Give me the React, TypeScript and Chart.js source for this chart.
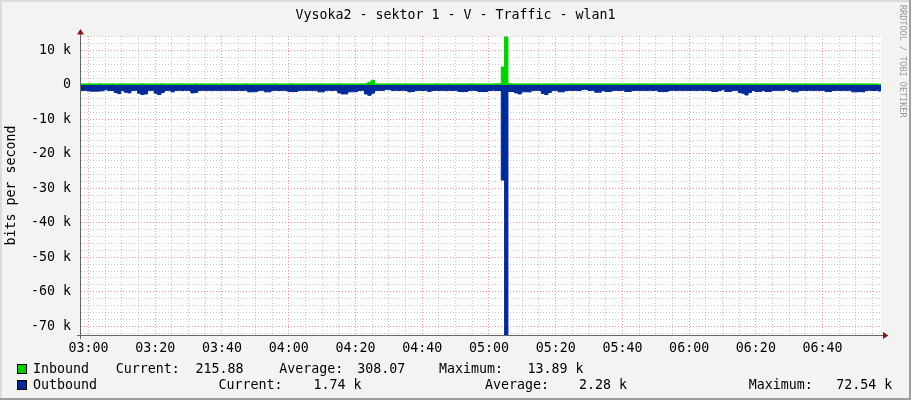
import React, { useEffect, useRef } from "react";
import { Chart, registerables } from "chart.js";

Chart.register(...registerables);

// ---- text ----
const TITLE = "Vysoka2 - sektor 1 - V - Traffic - wlan1";
const Y_LABEL = "bits per second";
const WATERMARK = "RRDTOOL / TOBI OETIKER";

// ---- axes (x in minutes relative to 03:00) ----
const X_MIN = -2.25;
const X_MAX = 237.5;
const X_MINOR_STEP = 5;
const X_MAJOR_STEP = 20;
const BASE_HOUR = 3;
const Y_MIN = -72540;
const Y_MAX = 14200;
const Y_MINOR_STEP = 2000;
const Y_MAJOR_STEP = 10000;

// ---- samples (1 minute each) ----
const SAMPLE_START = -2.3;
const SAMPLE_STEP = 1;

// Inbound, bits per second
const inbound = [
  290, 310, 275, 320, 305, 280, 330, 295, 300, 285,
  315, 270, 300, 325, 290, 305, 280, 310, 295, 320,
  285, 300, 275, 310, 295, 330, 290, 305, 280, 300,
  315, 290, 305, 270, 300, 320, 285, 310, 295, 300,
  290, 305, 280, 315, 300, 285, 310, 295, 275, 305,
  320, 290, 300, 285, 310, 295, 305, 280, 300, 315,
  290, 305, 275, 300, 320, 285, 310, 295, 300, 290,
  305, 280, 315, 300, 290, 310, 285, 300, 325, 295,
  310, 290, 300, 285, 305, 295, 330, 800, 1350, 310,
  295, 300, 280, 305, 290, 315, 300, 285, 310, 295,
  300, 275, 310, 290, 305, 285, 300, 315, 290, 300,
  285, 310, 295, 300, 280, 305, 290, 315, 300, 295,
  310, 285, 300, 290, 305, 320, 340, 5200, 13890, 360,
  300, 310, 290, 305, 285, 300, 315, 295, 300, 280,
  305, 290, 310, 295, 300, 285, 305, 290, 315, 300,
  295, 280, 300, 310, 290, 305, 285, 300, 295, 310,
  290, 305, 300, 285, 310, 295, 300, 280, 305, 290,
  310, 295, 300, 285, 305, 290, 300, 315, 290, 300,
  285, 305, 295, 300, 310, 290, 300, 285, 305, 295,
  300, 290, 310, 285, 300, 295, 305, 290, 300, 310,
  295, 300, 285, 305, 290, 300, 310, 295, 285, 300,
  305, 290, 300, 295, 310, 285, 300, 290, 305, 295,
  300, 285, 310, 295, 300, 290, 305, 280, 300, 295,
  290, 305, 300, 285, 310, 295, 300, 290, 280, 270,
  215.88,
];

// Outbound, bits per second (drawn below zero)
const outbound = [
  1600, 1600, 1550, 1750, 1800, 1800, 1750, 1700, 1350, 1600,
  1600, 2200, 2500, 1600, 2100, 2300, 1600, 1550, 2400, 2800,
  2600, 1600, 1550, 2400, 2800, 2200, 1600, 1550, 2000, 1600,
  1550, 1600, 1550, 1600, 2300, 2200, 1600, 1550, 1600, 1550,
  1600, 1550, 1600, 1550, 1600, 1550, 1600, 1600, 1550, 1600,
  1550, 2000, 2000, 1950, 1600, 1550, 2000, 2000, 1600, 1550,
  1600, 1550, 1600, 1900, 1950, 1900, 1600, 1550, 1600, 1550,
  1600, 1550, 2000, 2000, 1600, 1550, 1600, 1550, 2300, 2600,
  2600, 2000, 2000, 1950, 1600, 1550, 2600, 3000, 2400, 1600,
  1550, 1600, 1300, 1350, 1600, 1550, 1600, 1550, 1600, 2000,
  1900, 1600, 1550, 1600, 1550, 1900, 1600, 1550, 1600, 1550,
  1600, 1550, 1600, 1550, 1900, 1950, 1900, 1600, 1550, 1600,
  1900, 1950, 1900, 1600, 1550, 1600, 1600, 27600, 72540, 1900,
  1900, 2300, 2600, 2000, 2000, 2000, 1600, 1550, 1600, 2500,
  2800, 2200, 1600, 1550, 2000, 2000, 1600, 1550, 1600, 1550,
  1600, 1300, 1300, 1600, 1550, 2100, 2100, 1600, 1900, 1900,
  1600, 1550, 1600, 1550, 1900, 1900, 1600, 1550, 1600, 1550,
  1600, 1550, 1600, 1550, 1900, 1950, 1900, 1600, 1550, 1600,
  1550, 1600, 1550, 1600, 1550, 1600, 1550, 1600, 1550, 1600,
  1900, 1900, 1600, 1300, 1900, 1900, 1600, 1550, 2200, 2400,
  2900, 2200, 1600, 1900, 1900, 1600, 1900, 1900, 1600, 1550,
  1600, 1550, 1300, 1600, 2000, 2000, 1600, 1550, 1600, 1550,
  1600, 1550, 1600, 1550, 1900, 1900, 1600, 1550, 1600, 1550,
  1600, 1550, 2000, 2000, 1950, 2000, 1600, 1550, 1600, 1550,
  1740,
];

// ---- legend ----
const seriesNames = ["Inbound", "Outbound"];
const seriesColors = ["#00CF00", "#002A97"];
const currentValues = ["215.88", "1.74 k"];
const averageValues = ["308.07", "2.28 k"];
const maximumValues = ["13.89 k", "72.54 k"];

const FONT = "'DejaVu Sans Mono', monospace";
const FONT_SIZE = 13.3;
const MAJOR_GRID = "rgba(222,48,48,0.5)";
const MINOR_GRID = "rgba(143,143,143,0.5)";

function fmtTime(v: number): string {
  const total = BASE_HOUR * 60 + Math.round(v);
  const h = Math.floor(total / 60);
  const m = total % 60;
  return String(h).padStart(2, "0") + ":" + String(m).padStart(2, "0");
}

function gridTicks(min: number, max: number, step: number) {
  const out: { value: number }[] = [];
  for (let v = Math.ceil(min / step) * step; v <= max; v += step) out.push({ value: v });
  return out;
}

const rrdPlugin = {
  id: "rrdDecor",
  beforeDraw(chart: any) {
    const { ctx, chartArea: a } = chart;
    ctx.save();
    ctx.fillStyle = "#ffffff";
    ctx.fillRect(a.left, a.top, a.right - a.left, a.bottom - a.top);
    ctx.restore();
  },
  afterDraw(chart: any) {
    const { ctx, chartArea: a } = chart;
    ctx.save();
    ctx.strokeStyle = "#666666";
    ctx.lineWidth = 1;
    ctx.beginPath();
    ctx.moveTo(a.left - 4, a.bottom + 0.5);
    ctx.lineTo(a.right + 3, a.bottom + 0.5);
    ctx.moveTo(a.left - 0.5, a.bottom + 4);
    ctx.lineTo(a.left - 0.5, a.top - 3);
    ctx.stroke();
    ctx.fillStyle = "#7f1d1d";
    ctx.beginPath();
    ctx.moveTo(a.left - 0.5, a.top - 7);
    ctx.lineTo(a.left - 4, a.top - 1.5);
    ctx.lineTo(a.left + 3, a.top - 1.5);
    ctx.closePath();
    ctx.fill();
    ctx.beginPath();
    ctx.moveTo(a.right + 7.5, a.bottom + 0.5);
    ctx.lineTo(a.right + 2, a.bottom - 3);
    ctx.lineTo(a.right + 2, a.bottom + 4);
    ctx.closePath();
    ctx.fill();
    ctx.restore();
  },
};

export default function App() {
  const ref = useRef<HTMLCanvasElement>(null);

  useEffect(() => {
    const canvas = ref.current;
    if (!canvas) return;
    const times = inbound.map((_, i) => SAMPLE_START + i * SAMPLE_STEP);
    const chart = new Chart(canvas, {
      type: "line",
      data: {
        datasets: [
          {
            label: seriesNames[0],
            data: inbound.map((v, i) => ({ x: times[i], y: v })),
            borderColor: seriesColors[0],
            backgroundColor: seriesColors[0],
            borderWidth: 1,
            fill: "origin",
            stepped: "after",
            pointRadius: 0,
            clip: 0,
          },
          {
            label: seriesNames[1],
            data: outbound.map((v, i) => ({ x: times[i], y: -v })),
            borderColor: seriesColors[1],
            backgroundColor: seriesColors[1],
            borderWidth: 1,
            fill: "origin",
            stepped: "after",
            pointRadius: 0,
            clip: 0,
          },
        ],
      },
      options: {
        responsive: false,
        animation: false,
        events: [],
        layout: { padding: { top: 36, right: 30, left: 0, bottom: 0 } },
        plugins: {
          legend: { display: false },
          tooltip: { enabled: false },
          title: { display: false },
        },
        scales: {
          x: {
            type: "linear",
            min: X_MIN,
            max: X_MAX,
            afterFit: (s: any) => {
              s.height = 65;
            },
            afterBuildTicks: (s: any) => {
              s.ticks = gridTicks(X_MIN, X_MAX, X_MINOR_STEP);
            },
            grid: {
              color: (c: any) =>
                c.tick && Math.round(c.tick.value) % X_MAJOR_STEP === 0 ? MAJOR_GRID : MINOR_GRID,
              lineWidth: 1,
              drawTicks: false,
            },
            border: { display: false, dash: [1, 2] },
            ticks: {
              autoSkip: false,
              maxRotation: 0,
              minRotation: 0,
              padding: 6,
              color: "#000",
              font: { family: FONT, size: FONT_SIZE },
              callback: (v: any) => {
                const n = Math.round(Number(v));
                return n % X_MAJOR_STEP === 0 && n >= 0 ? fmtTime(n) : "";
              },
            },
          },
          y: {
            type: "linear",
            min: Y_MIN,
            max: Y_MAX,
            afterFit: (s: any) => {
              s.width = 81;
            },
            afterBuildTicks: (s: any) => {
              s.ticks = gridTicks(Y_MIN, Y_MAX, Y_MINOR_STEP);
            },
            grid: {
              color: (c: any) =>
                c.tick && Math.round(c.tick.value) % Y_MAJOR_STEP === 0 ? MAJOR_GRID : MINOR_GRID,
              lineWidth: 1,
              drawTicks: false,
            },
            border: { display: false, dash: [1, 2] },
            title: {
              display: true,
              text: Y_LABEL,
              color: "#000",
              font: { family: FONT, size: FONT_SIZE },
              padding: { top: 4, bottom: 0 },
            },
            ticks: {
              autoSkip: false,
              padding: 10,
              color: "#000",
              font: { family: FONT, size: FONT_SIZE },
              callback: (v: any) => {
                const n = Math.round(Number(v));
                if (n % Y_MAJOR_STEP !== 0) return "";
                return n === 0 ? "0" : n / 1000 + " k";
              },
            },
          },
        },
      },
      plugins: [rrdPlugin],
    } as any);
    return () => chart.destroy();
  }, []);

  const textStyle: React.CSSProperties = {
    position: "absolute",
    fontFamily: FONT,
    fontSize: FONT_SIZE,
    lineHeight: "16px",
    color: "#000",
    whiteSpace: "pre",
  };

  const rowTops = [361, 377];
  const boxTops = [364, 380];
  const nameX = [33, 33];
  const curLabelX = [115.8, 218.4];
  const curValX = [195.6, 313.5];
  const avgLabelX = [279.2, 484.9];
  const avgValX = [357.2, 578.9];
  const maxLabelX = [439, 748.7];
  const maxValX = [527.5, 836.3];

  return (
    <div
      style={{
        position: "absolute",
        left: 0,
        top: 0,
        width: 911,
        height: 400,
        background: "#f3f3f3",
        overflow: "hidden",
      }}
    >
      <canvas
        ref={ref}
        width={911}
        height={400}
        style={{ position: "absolute", left: 0, top: 0, width: 911, height: 400 }}
      />
      <div style={{ position: "absolute", left: 0, top: 0, width: 911, height: 2, background: "#dcdcdc" }} />
      <div style={{ position: "absolute", left: 0, top: 0, width: 2, height: 400, background: "#dcdcdc" }} />
      <div style={{ position: "absolute", left: 0, top: 398, width: 911, height: 2, background: "#9e9e9e" }} />
      <div style={{ position: "absolute", left: 909, top: 0, width: 2, height: 400, background: "#9e9e9e" }} />

      <div style={{ ...textStyle, left: 0, top: 7, width: 911, textAlign: "center" }}>{TITLE}</div>

      <div
        style={{
          position: "absolute",
          left: 898,
          top: 5,
          fontFamily: FONT,
          fontSize: 8.5,
          lineHeight: "10px",
          color: "#9a9a9a",
          writingMode: "vertical-rl",
          whiteSpace: "pre",
        }}
      >
        {WATERMARK}
      </div>

      {seriesNames.map((name, i) => (
        <React.Fragment key={name}>
          <div
            style={{
              position: "absolute",
              left: 17,
              top: boxTops[i],
              width: 10,
              height: 10,
              boxSizing: "border-box",
              border: "1px solid #000",
              background: seriesColors[i],
            }}
          />
          <span style={{ ...textStyle, left: nameX[i], top: rowTops[i] }}>{name}</span>
          <span style={{ ...textStyle, left: curLabelX[i], top: rowTops[i] }}>Current:</span>
          <span style={{ ...textStyle, left: curValX[i], top: rowTops[i] }}>{currentValues[i]}</span>
          <span style={{ ...textStyle, left: avgLabelX[i], top: rowTops[i] }}>Average:</span>
          <span style={{ ...textStyle, left: avgValX[i], top: rowTops[i] }}>{averageValues[i]}</span>
          <span style={{ ...textStyle, left: maxLabelX[i], top: rowTops[i] }}>Maximum:</span>
          <span style={{ ...textStyle, left: maxValX[i], top: rowTops[i] }}>{maximumValues[i]}</span>
        </React.Fragment>
      ))}
    </div>
  );
}
